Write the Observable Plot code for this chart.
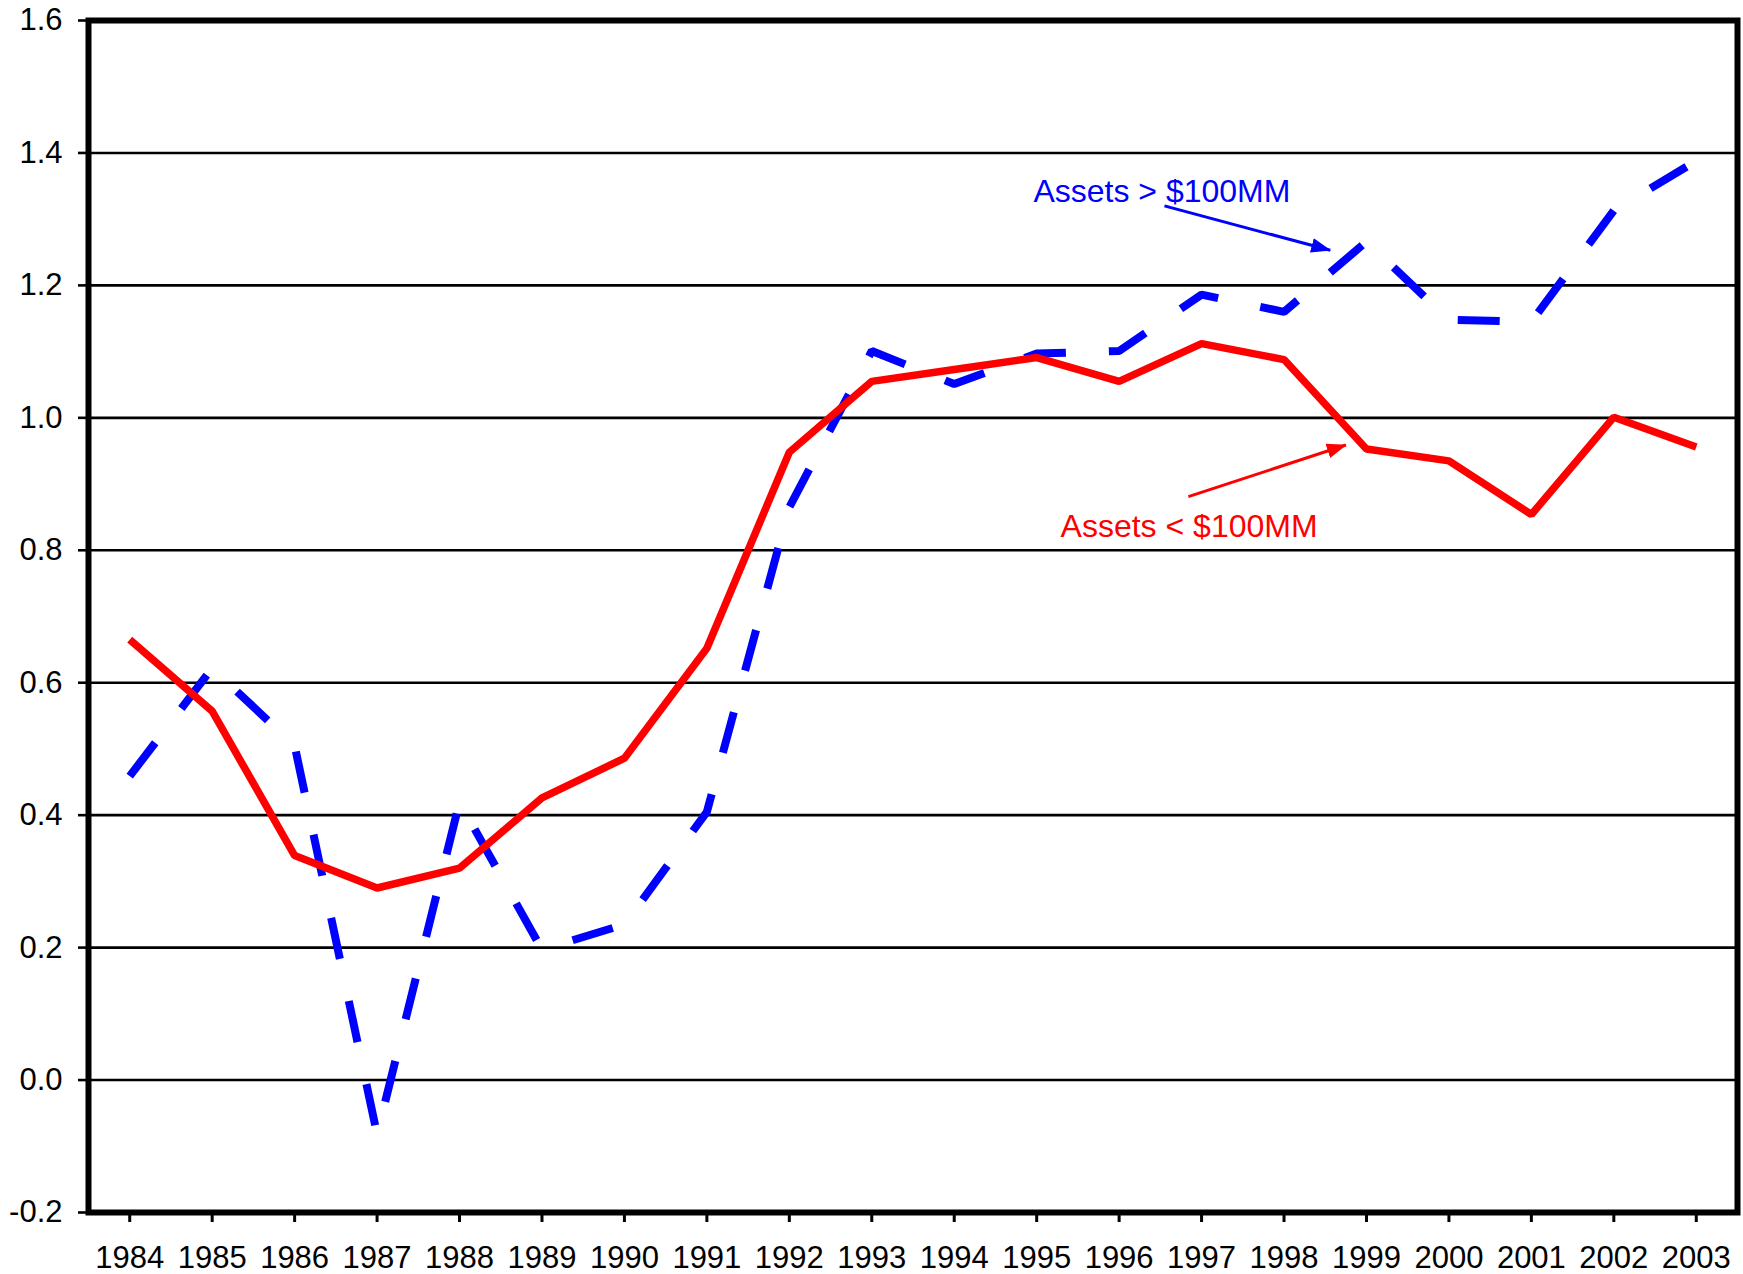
<!DOCTYPE html>
<html>
<head>
<meta charset="utf-8">
<script src="https://cdn.jsdelivr.net/npm/d3@7"></script>
<script src="https://cdn.jsdelivr.net/npm/@observablehq/plot@0.6"></script>
<style>
  html, body { margin: 0; padding: 0; background: #ffffff; }
  #chart { width: 1743px; height: 1274px; }
</style>
</head>
<body>
<div id="chart"></div>
<script>
// ---- data ----
const years = [1984, 1985, 1986, 1987, 1988, 1989, 1990, 1991, 1992, 1993,
               1994, 1995, 1996, 1997, 1998, 1999, 2000, 2001, 2002, 2003];
const assetsUnder100 = [0.665, 0.557, 0.339, 0.290, 0.320, 0.426, 0.486, 0.652, 0.948, 1.055,
                        1.073, 1.091, 1.055, 1.112, 1.088, 0.953, 0.935, 0.854, 1.001, 0.956];
const assetsOver100 = [0.459, 0.622, 0.505, -0.082, 0.420, 0.197, 0.235, 0.405, 0.865, 1.101,
                       1.051, 1.097, 1.101, 1.186, 1.160, 1.266, 1.148, 1.145, 1.313, 1.388];
const yTicks = [-0.2, 0.0, 0.2, 0.4, 0.6, 0.8, 1.0, 1.2, 1.4, 1.6];

// annotations
const labelTexts = ["Assets > $100MM", "Assets < $100MM"];
const labelColors = ["#0000ff", "#ff0000"];
const labelX = [1994.96, 1995.29];
const labelY = [1.342, 0.836];
const arrowX1 = [1996.55, 1996.84];
const arrowY1 = [1.320, 0.881];
const arrowX2 = [1998.56, 1998.75];
const arrowY2 = [1.253, 0.959];

// ---- tables built from the arrays ----
const small = years.map((year, i) => ({year, value: assetsUnder100[i]}));
const large = years.map((year, i) => ({year, value: assetsOver100[i]}));
const labels = labelTexts.map((text, i) => ({text, color: labelColors[i], x: labelX[i], y: labelY[i]}));
const arrows = labelColors.map((color, i) => ({color, x1: arrowX1[i], y1: arrowY1[i], x2: arrowX2[i], y2: arrowY2[i]}));

function filledArrow(color, context) {
  const doc = (context && context.document) || document;
  const ns = "http://www.w3.org/2000/svg";
  const m = doc.createElementNS(ns, "marker");
  m.setAttribute("viewBox", "0 -8 20 16");
  m.setAttribute("markerUnits", "userSpaceOnUse");
  m.setAttribute("markerWidth", "20");
  m.setAttribute("markerHeight", "16");
  m.setAttribute("refX", "19");
  m.setAttribute("refY", "0");
  m.setAttribute("orient", "auto");
  const p = doc.createElementNS(ns, "path");
  p.setAttribute("d", "M0,-7.5L20,0L0,7.5Z");
  p.setAttribute("fill", color);
  p.setAttribute("stroke", "none");
  m.appendChild(p);
  return m;
}

const font = "Liberation Sans, Arial, Helvetica, sans-serif";

const chart = Plot.plot({
  width: 1743,
  height: 1274,
  marginLeft: 88,
  marginRight: 6,
  marginTop: 20,
  marginBottom: 62,
  style: {fontFamily: font, fontSize: "31px", background: "#ffffff", color: "#000000"},
  x: {type: "linear", domain: [1983.5, 2003.5]},
  y: {domain: [-0.2, 1.6]},
  marks: [
    Plot.ruleY(yTicks, {stroke: "#000000", strokeWidth: 2.6}),
    Plot.axisY({ticks: yTicks, tickFormat: d => d.toFixed(1), tickSize: 10, tickPadding: 16,
                strokeWidth: 2.6, fontSize: 31, label: null, fill: "#000000"}),
    Plot.axisX({ticks: years, tickFormat: d => String(d), tickSize: 10, tickPadding: 23,
                strokeWidth: 3, fontSize: 31, label: null, fill: "#000000"}),
    Plot.line(large, {x: "year", y: "value", stroke: "#0000ff", strokeWidth: 8,
                      strokeDasharray: "42,43", strokeLinecap: "butt", strokeLinejoin: "miter"}),
    Plot.line(small, {x: "year", y: "value", stroke: "#ff0000", strokeWidth: 7.5,
                      strokeLinecap: "butt", strokeLinejoin: "miter"}),
    Plot.link(arrows, {x1: "x1", y1: "y1", x2: "x2", y2: "y2", stroke: "color",
                       strokeWidth: 3, markerEnd: filledArrow}),
    Plot.text(labels, {x: "x", y: "y", text: "text", fill: "color", textAnchor: "start",
                       fontSize: 32, fontFamily: font}),
    Plot.frame({stroke: "#000000", strokeWidth: 6})
  ]
});
document.getElementById("chart").appendChild(chart);
</script>
</body>
</html>
